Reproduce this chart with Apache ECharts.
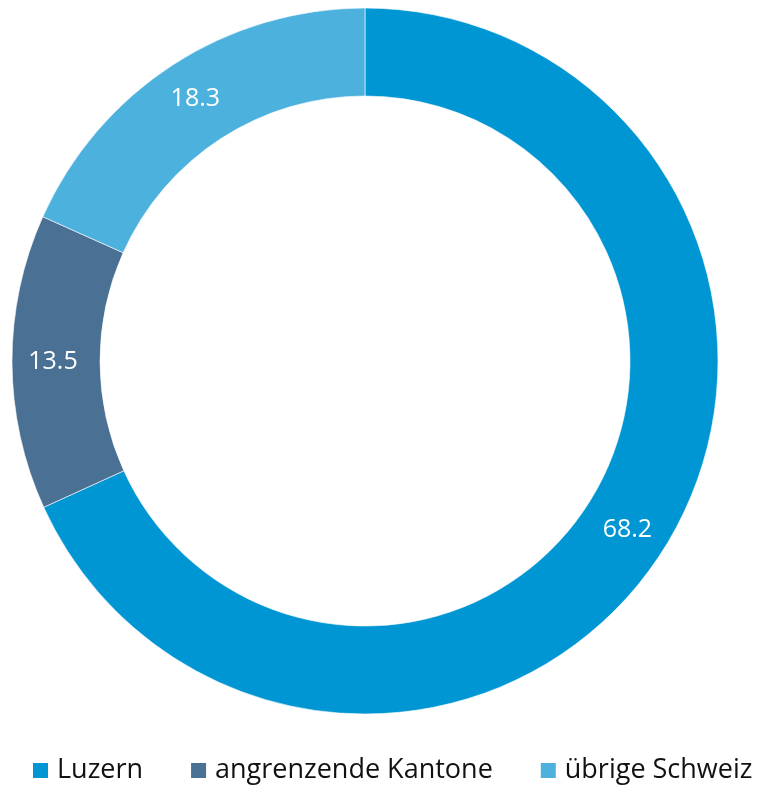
<!DOCTYPE html>
<html><head><meta charset="utf-8">
<script src="https://cdn.jsdelivr.net/npm/echarts@6/dist/echarts.min.js"></script>
<style>html,body{margin:0;padding:0;background:#fff}#c{width:758px;height:787px}</style>
</head><body><div id="c"></div>
<script>
const categories = ['Luzern', 'angrenzende Kantone', 'übrige Schweiz'];
const values = [68.2, 13.5, 18.3];
const colors = ['#0095D3', '#4A7093', '#4DB1DE'];

const chart = echarts.init(document.getElementById('c'));
chart.setOption({
  animation: false,
  color: colors,
  legend: {
    data: categories,
    top: 752,
    left: 26,
    itemWidth: 17,
    itemHeight: 17,
    itemGap: 46,
    icon: 'rect',
    textStyle: { fontFamily: 'Open Sans', fontSize: 27, color: '#111', padding: [0, 0, 0, 3] }
  },
  series: [{
    type: 'pie',
    center: [365, 361],
    radius: [265, 353],
    startAngle: 90,
    clockwise: true,
    itemStyle: { borderColor: '#fff', borderWidth: 0.6 },
    label: {
      show: true,
      position: 'inside',
      color: '#fff',
      fontFamily: 'Open Sans',
      fontSize: 25,
      padding: [6, 0, 0, 0],
      formatter: p => p.value.toFixed(1)
    },
    labelLine: { show: false },
    data: categories.map((n, i) => ({ name: n, value: values[i] }))
  }]
});
</script></body></html>
